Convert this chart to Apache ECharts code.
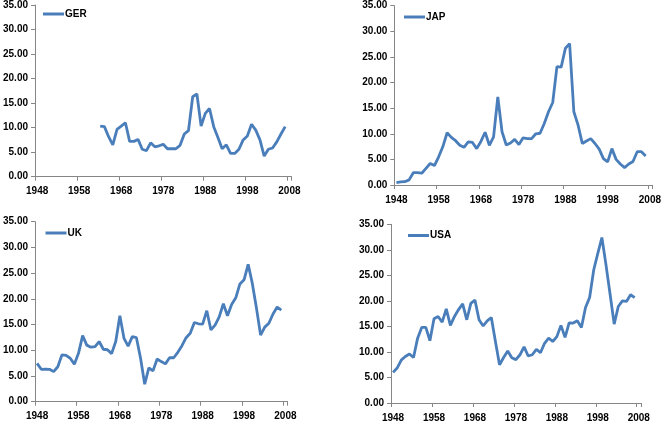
<!DOCTYPE html>
<html>
<head>
<meta charset="utf-8">
<script src="https://cdn.jsdelivr.net/npm/echarts@6/dist/echarts.min.js"></script>
<style>
html,body{margin:0;padding:0;background:#fff;}
#c{width:664px;height:423px;}
</style>
</head>
<body>
<div id="c"></div>
<script>
const years = ['1948','1949','1950','1951','1952','1953','1954','1955','1956','1957',
  '1958','1959','1960','1961','1962','1963','1964','1965','1966','1967',
  '1968','1969','1970','1971','1972','1973','1974','1975','1976','1977',
  '1978','1979','1980','1981','1982','1983','1984','1985','1986','1987',
  '1988','1989','1990','1991','1992','1993','1994','1995','1996','1997',
  '1998','1999','2000','2001','2002','2003','2004','2005','2006','2007','2008'];

const ger = [null,null,null,null,null,null,null,null,null,null,
  null,null,null,null,null,10.33,10.2,8.15,6.5,9.65,
  10.3,11.0,7.2,7.2,7.6,5.6,5.3,6.9,6.1,6.3,
  6.6,5.7,5.7,5.7,6.4,8.7,9.4,16.3,16.85,10.3,
  12.9,13.9,10.2,8.0,5.7,6.5,4.75,4.75,5.6,7.5,
  8.3,10.7,9.5,7.5,4.2,5.6,5.85,7.1,8.7,10.2];

const jap = [0.45,0.6,0.65,1.0,2.4,2.4,2.3,3.25,4.2,3.8,
  5.5,7.5,10.2,9.3,8.65,7.75,7.35,8.4,8.3,7.1,
  8.5,10.3,7.75,9.4,17.2,10.4,7.8,8.2,8.9,7.9,
  9.2,9.05,9.05,10.0,10.1,12.0,14.3,16.1,23.1,23.0,
  26.7,27.6,14.3,11.7,8.1,8.6,9.05,8.1,7.0,5.15,
  4.5,7.1,5.0,4.1,3.4,4.1,4.6,6.5,6.5,5.65];

const uk = [7.45,6.3,6.35,6.3,5.85,6.8,9.1,9.0,8.45,7.3,
  9.4,12.85,11.0,10.6,10.7,11.7,10.2,10.1,9.35,11.7,
  16.7,12.3,10.8,12.65,12.45,8.45,3.4,6.6,6.0,8.3,
  7.8,7.35,8.55,8.55,9.6,10.9,12.45,13.3,15.4,15.15,
  15.1,17.7,13.95,14.9,16.5,19.05,16.7,18.9,20.2,22.9,
  23.7,26.7,23.0,18.2,12.95,14.5,15.25,17.05,18.4,17.8];

const usa = [6.0,6.85,8.4,9.1,9.6,8.9,12.7,14.8,14.8,12.2,
  16.5,16.95,15.85,18.45,15.2,16.95,18.3,19.4,16.3,19.5,
  20.15,16.3,15.1,16.1,16.75,12.05,7.5,8.9,10.2,8.85,
  8.5,9.45,11.0,9.2,9.45,10.5,9.85,11.7,12.7,12.05,
  13.0,15.2,12.85,15.7,15.65,16.1,14.8,18.7,20.65,26.05,
  29.3,32.4,27.05,21.3,15.45,18.9,20.0,19.9,21.2,20.65];

const yTicks = ['0.00','5.00','10.00','15.00','20.00','25.00','30.00','35.00'];

const panels = [
  {name:'GER', data:ger, grid:{left:33, top:5, width:258.5, height:171.7}, legend:{left:43, top:9}},
  {name:'JAP', data:jap, grid:{left:394.3, top:5.7, width:260, height:179.3}, legend:{left:404, top:12}},
  {name:'UK', data:uk, grid:{left:32.5, top:221.7, width:255, height:180}, legend:{left:45.5, top:228}},
  {name:'USA', data:usa, grid:{left:391, top:224.3, width:249.8, height:179}, legend:{left:408, top:230.5}}
];

const lineColor = '#4A7EBB';
const axisColor = '#868686';
const labelFont = {color:'#000', fontSize:10, fontWeight:'bold', fontFamily:'Liberation Sans'};

const option = {
  animation:false,
  backgroundColor:'#fff',
  grid: panels.map(p => Object.assign({containLabel:false}, p.grid)),
  xAxis: panels.map((p,i) => ({
    type:'category', gridIndex:i, data:years, boundaryGap:true,
    axisLine:{show:true, lineStyle:{color:axisColor, width:1}},
    axisTick:{show:true, interval:9, length:4, inside:false, lineStyle:{color:axisColor}},
    axisLabel:Object.assign({interval:9, margin:10}, labelFont),
    splitLine:{show:false}
  })),
  yAxis: panels.map((p,i) => ({
    type:'value', gridIndex:i, min:0, max:35, interval:5,
    axisLine:{show:true, lineStyle:{color:axisColor, width:1}},
    axisTick:{show:true, length:4, lineStyle:{color:axisColor}},
    axisLabel:Object.assign({margin:7, formatter:(v)=>yTicks[Math.round(v/5)]}, labelFont),
    splitLine:{show:false}
  })),
  legend: panels.map(p => ({
    data:[p.name], left:p.legend.left, top:p.legend.top, padding:0,
    icon:'rect', itemWidth:21, itemHeight:3,
    textStyle:Object.assign({}, labelFont, {padding:[0,0,0,-4]}),
    selectedMode:false
  })),
  series: panels.map((p,i) => ({
    name:p.name, type:'line', xAxisIndex:i, yAxisIndex:i, data:p.data,
    showSymbol:false, symbol:'none', connectNulls:false,
    lineStyle:{color:lineColor, width:2.8}, itemStyle:{color:lineColor}
  }))
};

const chart = echarts.init(document.getElementById('c'), null, {renderer:'canvas'});
chart.setOption(option);
</script>
</body>
</html>
